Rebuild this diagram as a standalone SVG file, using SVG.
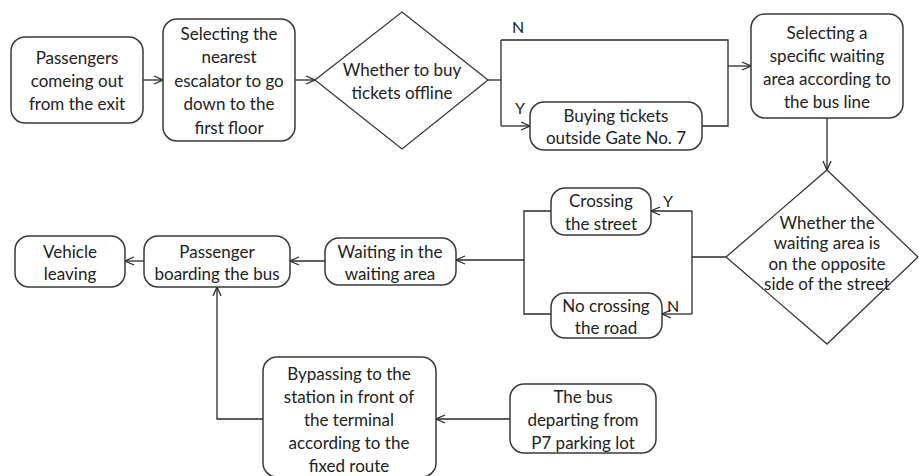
<svg xmlns="http://www.w3.org/2000/svg" width="919" height="476" viewBox="0 0 919 476">
<style>
.box{fill:#fff;stroke:#3a3a3a;stroke-width:1.5}
.dia{fill:#fff;stroke:#3a3a3a;stroke-width:1.3}
.t{font-family:Lato,"Open Sans","Liberation Sans",sans-serif;font-size:17px;fill:#222;text-anchor:middle;dominant-baseline:central}
.lbl{font-family:Lato,"Open Sans","Liberation Sans",sans-serif;font-size:16px;fill:#222;text-anchor:middle;dominant-baseline:central}
.c{fill:none;stroke:#2a2a2a;stroke-width:1.3}
</style>
<defs>
<marker id="ah" viewBox="0 0 10 10" refX="10" refY="5" markerWidth="10" markerHeight="10" markerUnits="userSpaceOnUse" orient="auto">
<path d="M1,1 L10,5 L1,9" fill="none" stroke="#2a2a2a" stroke-width="1.3"/>
</marker>
</defs>
<rect width="919" height="476" fill="#fff"/>
<g id="connectors">
<line class="c" x1="143" y1="80" x2="163" y2="80" marker-end="url(#ah)"/>
<line class="c" x1="295" y1="80" x2="315" y2="80" marker-end="url(#ah)"/>
<polyline class="c" points="488,80 501,80"/>
<polyline class="c" points="501,40 501,126"/>
<polyline class="c" points="501,40 728,40 728,126 702,126"/>
<line class="c" x1="501" y1="126" x2="530" y2="126" marker-end="url(#ah)"/>
<line class="c" x1="728" y1="66" x2="751" y2="66" marker-end="url(#ah)"/>
<line class="c" x1="827" y1="118" x2="827" y2="170" marker-end="url(#ah)"/>
<polyline class="c" points="726,257 692,257"/>
<polyline class="c" points="692,211 692,314"/>
<line class="c" x1="692" y1="211" x2="651" y2="211" marker-end="url(#ah)"/>
<line class="c" x1="692" y1="314" x2="662" y2="314" marker-end="url(#ah)"/>
<polyline class="c" points="551,211 524,211 524,314 551,314"/>
<line class="c" x1="524" y1="260" x2="456" y2="260" marker-end="url(#ah)"/>
<line class="c" x1="325" y1="261" x2="290" y2="261" marker-end="url(#ah)"/>
<line class="c" x1="144" y1="261" x2="125" y2="261" marker-end="url(#ah)"/>
<polyline class="c" points="263,419 217,419 217,287" marker-end="url(#ah)"/>
<line class="c" x1="510" y1="419" x2="436" y2="419" marker-end="url(#ah)"/>
</g>
<g id="labels">
<text class="lbl" x="518" y="26">N</text>
<text class="lbl" x="520" y="107">Y</text>
<text class="lbl" x="668" y="200">Y</text>
<text class="lbl" x="673" y="305">N</text>
</g>
<g id="n1">
<rect class="box" x="11" y="37" width="132" height="86" rx="14"/>
<text class="t" x="77" y="57">Passengers</text>
<text class="t" x="77" y="80">comeing out</text>
<text class="t" x="77" y="103">from the exit</text>
</g>
<g id="n2">
<rect class="box" x="163" y="19" width="132" height="122" rx="14"/>
<text class="t" x="229" y="33">Selecting the</text>
<text class="t" x="229" y="56.5">nearest</text>
<text class="t" x="229" y="80">escalator to go</text>
<text class="t" x="229" y="103.5">down to the</text>
<text class="t" x="229" y="127">first floor</text>
</g>
<g id="d1">
<polygon class="dia" points="402,12 488,80 402,149 315,80"/>
<text class="t" x="402" y="69">Whether to buy</text>
<text class="t" x="402" y="92">tickets offline</text>
</g>
<g id="n3">
<rect class="box" x="530" y="102" width="172" height="48" rx="14"/>
<text class="t" x="616" y="115">Buying tickets</text>
<text class="t" x="616" y="137">outside Gate No. 7</text>
</g>
<g id="n4">
<rect class="box" x="751" y="14" width="152" height="104" rx="14"/>
<text class="t" x="827" y="32">Selecting a</text>
<text class="t" x="827" y="55">specific waiting</text>
<text class="t" x="827" y="78">area according to</text>
<text class="t" x="827" y="101">the bus line</text>
</g>
<g id="d2">
<polygon class="dia" points="827,170 918,257 827,344 726,257"/>
<text class="t" x="827" y="222">Whether the</text>
<text class="t" x="827" y="242.5">waiting area is</text>
<text class="t" x="827" y="263">on the opposite</text>
<text class="t" x="827" y="283.5">side of the street</text>
</g>
<g id="n5">
<rect class="box" x="551" y="188" width="100" height="47" rx="14"/>
<text class="t" x="601" y="200">Crossing</text>
<text class="t" x="601" y="223">the street</text>
</g>
<g id="n6">
<rect class="box" x="551" y="293" width="111" height="45" rx="14"/>
<text class="t" x="606" y="305">No crossing</text>
<text class="t" x="606" y="327">the road</text>
</g>
<g id="n7">
<rect class="box" x="325" y="238" width="131" height="47" rx="14"/>
<text class="t" x="390" y="251">Waiting in the</text>
<text class="t" x="390" y="273">waiting area</text>
</g>
<g id="n8">
<rect class="box" x="144" y="236" width="146" height="51" rx="14"/>
<text class="t" x="217" y="251">Passenger</text>
<text class="t" x="217" y="273">boarding the bus</text>
</g>
<g id="n9">
<rect class="box" x="15" y="236" width="110" height="51" rx="14"/>
<text class="t" x="70" y="251">Vehicle</text>
<text class="t" x="70" y="273">leaving</text>
</g>
<g id="n10">
<rect class="box" x="263" y="357" width="173" height="120" rx="14"/>
<text class="t" x="349" y="373">Bypassing to the</text>
<text class="t" x="349" y="396">station in front of</text>
<text class="t" x="349" y="419">the terminal</text>
<text class="t" x="349" y="442">according to the</text>
<text class="t" x="349" y="465">fixed route</text>
</g>
<g id="n11">
<rect class="box" x="510" y="384" width="146" height="69" rx="14"/>
<text class="t" x="583" y="396">The bus</text>
<text class="t" x="583" y="419">departing from</text>
<text class="t" x="583" y="442">P7 parking lot</text>
</g>
</svg>
